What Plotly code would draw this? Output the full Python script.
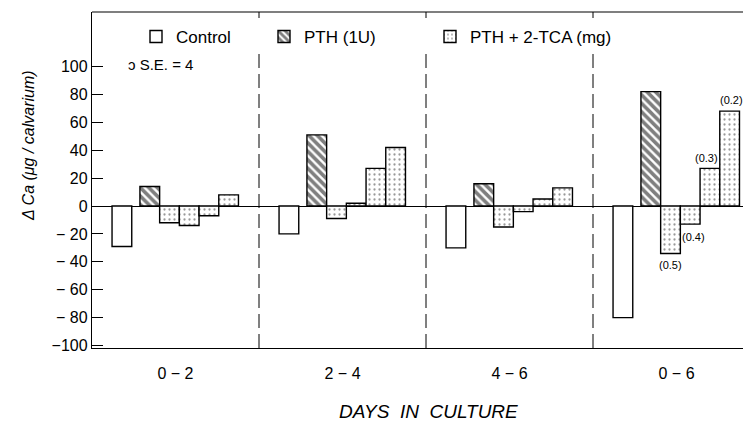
import plotly.graph_objects as go

categories = ["0 − 2", "2 − 4", "4 − 6", "0 − 6"]
control = [-29, -20, -30, -80]
pth = [14, 51, 16, 82]
tca_05 = [-12, -9, -15, -34]
tca_04 = [-14, 2, -4, -13]
tca_03 = [-7, 27, 5, 27]
tca_02 = [8, 42, 13, 68]
dose_labels = ["(0.5)", "(0.4)", "(0.3)", "(0.2)"]
y_ticks = [-100, -80, -60, -40, -20, 0, 20, 40, 60, 80, 100]
y_ticktext = ["−100", "− 80", "− 60", "− 40", "− 20", "0", "20", "40", "60", "80", "100"]

FONT = "Liberation Sans"
# the page body has an 8px margin; lay out in page pixels and convert
OFF = 8
FIG_W, FIG_H = 751 - OFF, 428 - OFF
PL, PT, PR, PB = 92, 12, 751, 348  # plot box in page pixels
ML, MT = PL - OFF, PT - OFF
MB = FIG_H - (PB - OFF)


def px(x):
    return (x - PL) / (PR - PL)


def py(y):
    return (PB - y) / (PB - PT)


W = 0.118
hatch = dict(shape="\\", size=6, solidity=0.6, fgcolor="black", bgcolor="white")
dots = dict(shape=".", size=5, solidity=0.16, fgcolor="#333", bgcolor="white")
line = dict(color="black", width=1.4)

fig = go.Figure()
fig.add_trace(go.Bar(x=categories, y=control, name="Control", offset=-0.38, width=W,
                     marker=dict(color="white", line=line), legend="legend"))
fig.add_trace(go.Bar(x=categories, y=pth, name="PTH (1U)", offset=-0.213, width=W,
                     marker=dict(color="white", line=line, pattern=hatch), legend="legend2"))
tca_series = [tca_05, tca_04, tca_03, tca_02]
tca_offsets = [-0.095, 0.023, 0.141, 0.259]
for i, (vals, off) in enumerate(zip(tca_series, tca_offsets)):
    fig.add_trace(go.Bar(x=categories, y=vals, name="PTH + 2-TCA (mg)", offset=off, width=W,
                         marker=dict(color="white", line=line, pattern=dots),
                         legend="legend3", legendgroup="tca", showlegend=(i == 0)))

# dose labels on the last group
label_style = [
    dict(dx=W / 2, xanchor="center", yanchor="top", yshift=-4),
    dict(dx=0.0, xanchor="left", yanchor="top", yshift=-5),
    dict(dx=W, xanchor="right", yanchor="bottom", yshift=2),
    dict(dx=W / 2 + 0.01, xanchor="center", yanchor="bottom", yshift=3),
]
for vals, off, txt, st in zip(tca_series, tca_offsets, dose_labels, label_style):
    fig.add_annotation(x=3 + off + st["dx"], y=vals[3], xref="x", yref="y", text=txt,
                       showarrow=False, xanchor=st["xanchor"], yanchor=st["yanchor"],
                       yshift=st["yshift"], font=dict(family=FONT, size=11, color="black"))

# dashed separators (start below the legend row) plus short ticks at the top border
for xs in [0.5, 1.5, 2.5]:
    fig.add_shape(type="line", x0=xs, x1=xs, y0=0, y1=py(52), xref="x", yref="paper",
                  line=dict(color="black", width=1, dash="14px,6px"))
    fig.add_shape(type="line", x0=xs, x1=xs, y0=py(18), y1=1, xref="x", yref="paper",
                  line=dict(color="black", width=1))
# top border
fig.add_shape(type="line", x0=0, x1=1, y0=1, y1=1, xref="paper", yref="paper",
              line=dict(color="black", width=1.2))

fig.add_annotation(x=px(28), y=py(146), xref="paper", yref="paper",
                   text="<i>Δ Ca (μg / calvarium)</i>", textangle=-90, showarrow=False,
                   xanchor="center", yanchor="middle",
                   font=dict(family=FONT, size=16, color="black"))
fig.add_annotation(x=px(428), y=py(411), xref="paper", yref="paper",
                   text="<i>DAYS  IN  CULTURE</i>", showarrow=False,
                   xanchor="center", yanchor="middle",
                   font=dict(family=FONT, size=19, color="black"))
fig.add_annotation(x=px(126), y=py(64), xref="paper", yref="paper",
                   text="ɔ S.E. = 4", showarrow=False, xanchor="left", yanchor="middle",
                   font=dict(family=FONT, size=15, color="black"))

legend_common = dict(orientation="h", yanchor="middle", xanchor="left",
                     font=dict(family=FONT, size=17, color="black"),
                     bgcolor="rgba(0,0,0,0)", y=py(37))
fig.update_layout(
    width=FIG_W, height=FIG_H,
    margin=dict(l=ML, r=0, t=MT, b=MB, autoexpand=False),
    paper_bgcolor="white", plot_bgcolor="white",
    barmode="overlay",
    showlegend=True,
    legend=dict(x=px(156 - 20), **legend_common),
    legend2=dict(x=px(284 - 20), **legend_common),
    legend3=dict(x=px(450 - 20), **legend_common),
    font=dict(family=FONT, size=16, color="black"),
    xaxis=dict(range=[-0.5, 3.446], showline=True, linecolor="black", linewidth=1.4,
               ticks="", showgrid=False, tickfont=dict(family=FONT, size=16),
               ticklabelstandoff=11),
    yaxis=dict(range=[-101.8, 139.1], showline=True, linecolor="black", linewidth=1.4,
               ticks="inside", ticklen=11, tickcolor="black", tickwidth=1.2,
               tickvals=y_ticks, ticktext=y_ticktext, showgrid=False,
               zeroline=True, zerolinecolor="black", zerolinewidth=1.2,
               tickfont=dict(family=FONT, size=16)),
)
fig.write_html("out.html")
